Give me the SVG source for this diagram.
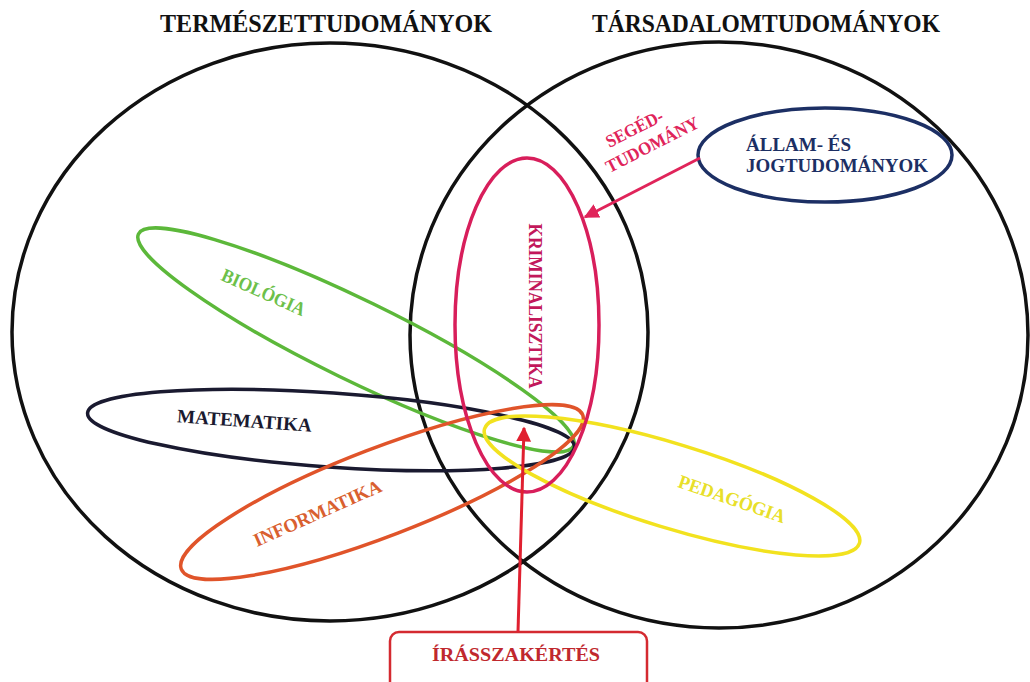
<svg xmlns="http://www.w3.org/2000/svg" width="1030" height="682" viewBox="0 0 1030 682">
<defs>
<style>
.ring{fill:none;stroke-width:3.5}
.big{fill:none;stroke:#111;stroke-width:3.5}
.t{font-family:"Liberation Serif","Times New Roman",serif;font-weight:bold}
</style>
<marker id="ahPink" viewBox="0 0 10 10" refX="9" refY="5" markerWidth="5" markerHeight="5" orient="auto" markerUnits="strokeWidth"><path d="M0,0 L10,5 L0,10 z" fill="#e0245a"/></marker>
<marker id="ahRed" viewBox="0 0 10 10" refX="9" refY="5" markerWidth="5" markerHeight="5" orient="auto" markerUnits="strokeWidth"><path d="M0,0 L10,5 L0,10 z" fill="#e02030"/></marker>
</defs>
<rect width="1030" height="682" fill="#fff"/>

<g id="termeszet">
<ellipse class="big" cx="330" cy="332" rx="318" ry="289"/>
<text class="t" x="326" y="32" font-size="25" text-anchor="middle" textLength="332" lengthAdjust="spacingAndGlyphs" fill="#111">TERMÉSZETTUDOMÁNYOK</text>
</g>
<g id="tarsadalom">
<ellipse class="big" cx="719" cy="335" rx="309" ry="293"/>
<text class="t" x="766" y="32" font-size="25" text-anchor="middle" textLength="348" lengthAdjust="spacingAndGlyphs" fill="#111">TÁRSADALOMTUDOMÁNYOK</text>
</g>

<g id="biologia">
<ellipse class="ring" stroke="#5cb83a" cx="356" cy="340" rx="242" ry="40" transform="rotate(26 356 340)"/>
<text class="t" font-size="19" fill="#6cc04a" text-anchor="middle" textLength="90" lengthAdjust="spacingAndGlyphs" transform="translate(261,298) rotate(24)">BIOLÓGIA</text>
</g>
<g id="matematika">
<ellipse class="ring" stroke="#1a1a30" cx="331" cy="430" rx="244" ry="37" transform="rotate(4 331 430)"/>
<text class="t" font-size="19" fill="#1a1a30" text-anchor="middle" textLength="135" lengthAdjust="spacingAndGlyphs" transform="translate(244,427) rotate(4)">MATEMATIKA</text>
</g>
<g id="informatika">
<ellipse class="ring" stroke="#e0542a" cx="382" cy="492" rx="215" ry="44" transform="rotate(-21 382 492)"/>
<text class="t" font-size="19" fill="#d9602f" text-anchor="middle" textLength="138" lengthAdjust="spacingAndGlyphs" transform="translate(320,519) rotate(-24)">INFORMATIKA</text>
</g>
<g id="pedagogia">
<ellipse class="ring" stroke="#f2e21f" cx="672" cy="486" rx="196" ry="42" transform="rotate(17 672 486)"/>
<text class="t" font-size="19" fill="#e8df2a" text-anchor="middle" textLength="112" lengthAdjust="spacingAndGlyphs" transform="translate(730,505) rotate(19)">PEDAGÓGIA</text>
</g>
<g id="kriminalisztika">
<ellipse class="ring" stroke="#d81e5b" cx="527" cy="325" rx="72" ry="167"/>
<text class="t" font-size="19" fill="#c2185b" text-anchor="middle" textLength="165" lengthAdjust="spacingAndGlyphs" transform="translate(529,306) rotate(90)">KRIMINALISZTIKA</text>
</g>
<g id="allam">
<ellipse class="ring" stroke="#1c2f64" cx="825" cy="155" rx="127" ry="47"/>
<text class="t" font-size="19" fill="#1c2f64" x="746" y="151" textLength="105" lengthAdjust="spacingAndGlyphs">ÁLLAM- ÉS</text>
<text class="t" font-size="19" fill="#1c2f64" x="746" y="172" textLength="182" lengthAdjust="spacingAndGlyphs">JOGTUDOMÁNYOK</text>
</g>
<g id="segedtudomany">
<text class="t" font-size="18" fill="#e0245a" text-anchor="middle" textLength="62" lengthAdjust="spacingAndGlyphs" transform="translate(637,134) rotate(-27)">SEGÉD-</text>
<text class="t" font-size="18" fill="#e0245a" text-anchor="middle" textLength="102" lengthAdjust="spacingAndGlyphs" transform="translate(655,150) rotate(-27)">TUDOMÁNY</text>
</g>
<g id="irasszakertes">
<rect x="390" y="632" width="257" height="60" rx="9" fill="#fff" stroke="#d42a30" stroke-width="2.5"/>
<text class="t" font-size="19" fill="#c0282e" x="516" y="661" text-anchor="middle" textLength="168" lengthAdjust="spacingAndGlyphs">ÍRÁSSZAKÉRTÉS</text>
</g>

<g id="connectors">
<line x1="700" y1="158" x2="585" y2="217" stroke="#e0245a" stroke-width="3" marker-end="url(#ahPink)"/>
<line x1="518" y1="632" x2="524" y2="428" stroke="#e02030" stroke-width="3" marker-end="url(#ahRed)"/>
</g>
</svg>
